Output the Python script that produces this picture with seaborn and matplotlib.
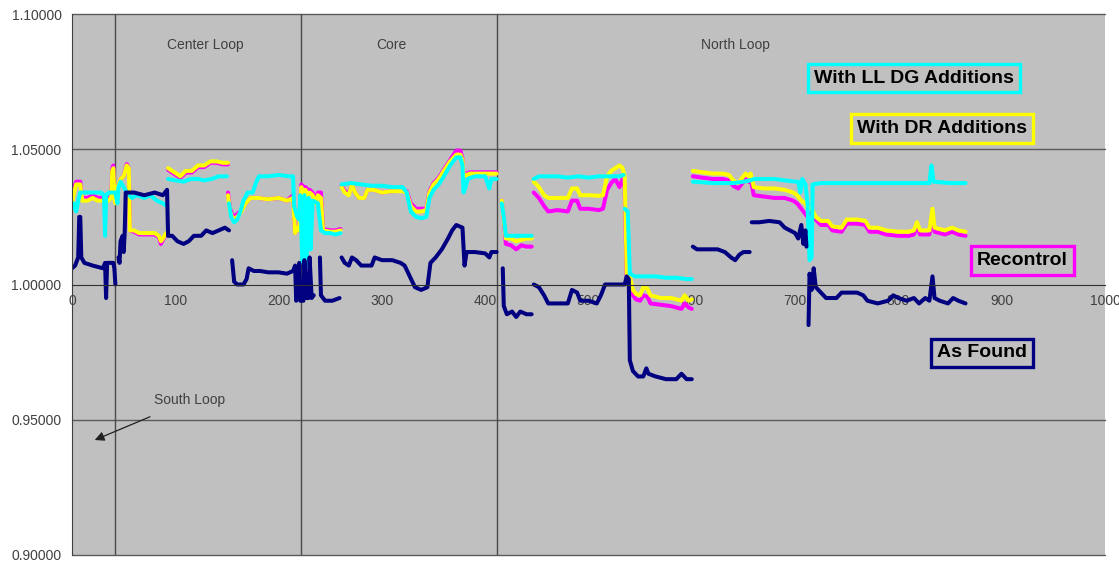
import numpy as np
import pandas as pd
import seaborn as sns
import matplotlib.pyplot as plt

nan = np.nan

# As Found (navy)
found_x = [0, 3, 6, 7, 8, 9, 12, 16, 20, 25, 30, 32, 33, 34, 40, 41, 42, nan,
           45, 46, 47, 49, 50, 51, 52, 60, 70, 80, 88, 92, 93, 97, 102, 108, 113, 118, 125, 130, 136, 142, 148, 152, nan,
           155, 157, 160, 166, 169, 171, 176, 182, 190, 200, 208, 214, 216, 217, 219, 220, 221, 224, 225, 227, 229, 230, 232, 234, nan,
           240, 241, 245, 252, 259, nan,
           261, 264, 268, 271, 275, 280, 285, 290, 293, 300, 310, 318, 322, 327, 332, 338, 344, 347, 352, 358, 364, 368, 372, 378, 380, 382, 390, 400, 404, 406, 411, nan,
           417, 418, 421, 426, 430, 434, 440, 445, nan,
           447, 452, 457, 461, 470, 480, 484, 489, 492, 500, 508, 512, 516, 525, 535, 537, 539, 540, 543, 548, 553, 556, 558, 565, 575, 585, 590, 595, 600, nan,
           601, 605, 615, 625, 632, 638, 642, 646, 650, 656, nan,
           658, 665, 675, 685, 690, 695, 700, 703, 706, 708, 710, 711, nan,
           713, 714, 716, 718, 720, 725, 730, 740, 745, 750, 760, 766, 770, 780, 790, 795, 800, 808, 815, 820, 826, 830, 833, 835, 840, 848, 853, 858, 865]
found_y = [1.006, 1.007, 1.010, 1.025, 1.025, 1.010, 1.008, 1.0075, 1.007, 1.0065, 1.006, 1.008, 0.995, 1.008, 1.008, 1.006, 1.000, nan,
           1.010, 1.008, 1.016, 1.018, 1.012, 1.019, 1.034, 1.034, 1.033, 1.034, 1.033, 1.035, 1.018, 1.018, 1.016, 1.015, 1.016, 1.018, 1.018, 1.020, 1.019, 1.020, 1.021, 1.020, nan,
           1.009, 1.001, 1.000, 1.000, 1.002, 1.006, 1.005, 1.005, 1.0045, 1.0045, 1.004, 1.005, 1.007, 0.994, 0.995, 1.008, 0.994, 0.994, 1.009, 0.995, 0.995, 1.010, 0.995, 0.996, nan,
           1.010, 0.996, 0.994, 0.994, 0.995, nan,
           1.010, 1.008, 1.007, 1.010, 1.009, 1.007, 1.007, 1.007, 1.010, 1.009, 1.009, 1.008, 1.007, 1.003, 0.999, 0.998, 0.999, 1.008, 1.010, 1.013, 1.017, 1.020, 1.022, 1.021, 1.007, 1.012, 1.012, 1.0115, 1.010, 1.012, 1.012, nan,
           1.006, 0.992, 0.989, 0.990, 0.988, 0.990, 0.989, 0.989, nan,
           1.000, 0.999, 0.996, 0.993, 0.993, 0.993, 0.998, 0.997, 0.994, 0.994, 0.993, 0.996, 1.000, 1.000, 1.000, 1.003, 1.002, 0.972, 0.968, 0.966, 0.966, 0.969, 0.967, 0.966, 0.965, 0.965, 0.967, 0.965, 0.965, nan,
           1.014, 1.013, 1.013, 1.013, 1.012, 1.010, 1.009, 1.011, 1.012, 1.012, nan,
           1.023, 1.023, 1.0235, 1.023, 1.021, 1.020, 1.019, 1.017, 1.022, 1.015, 1.020, 1.014, nan,
           0.985, 1.004, 0.998, 1.006, 0.999, 0.997, 0.995, 0.995, 0.997, 0.997, 0.997, 0.996, 0.994, 0.993, 0.994, 0.996, 0.995, 0.994, 0.995, 0.993, 0.995, 0.994, 1.003, 0.995, 0.994, 0.993, 0.995, 0.994, 0.993]

# With LL DG Additions (cyan)
lldg_x = [0, 2, 4, 6, 8, 15, 22, 28, 31, 32, 33, 36, 42, 44, 45, 47, 50, 53, 58, 63, 70, 76, 82, 88, 92, nan,
          93, 100, 108, 115, 122, 128, 135, 142, 150, nan,
          152, 154, 157, 160, 163, 166, 170, 175, 178, 181, 190, 200, 210, 214, 215, 218, 220, 221, 223, 225, 227, 229, 231, 233, 238, 241, 245, 250, 255, 260, nan,
          261, 270, 280, 290, 300, 310, 320, 324, 328, 333, 338, 343, 346, 350, 355, 360, 366, 372, 376, 378, 379, 381, 383, 390, 400, 404, 406, 411, nan,
          416, 418, 420, 425, 435, 445, nan,
          447, 452, 460, 470, 480, 490, 500, 510, 520, 530, 534, nan,
          535, 538, 540, 545, 555, 565, 575, 585, 595, 600, nan,
          601, 610, 620, 630, 640, 650, 657, 660, 670, 680, 690, 700, 703, 705, 707, 710, 712, 714, 716, 717, 725, 740, 760, 780, 800, 820, 830, 832, 834, 850, 865]
lldg_y = [1.028, 1.030, 1.027, 1.031, 1.034, 1.034, 1.034, 1.034, 1.033, 1.018, 1.033, 1.034, 1.034, 1.030, 1.036, 1.038, 1.036, 1.034, 1.032, 1.033, 1.032, 1.033, 1.031, 1.030, 1.029, nan,
          1.039, 1.0385, 1.038, 1.039, 1.039, 1.0385, 1.039, 1.040, 1.040, nan,
          1.030, 1.025, 1.023, 1.024, 1.027, 1.031, 1.034, 1.034, 1.0375, 1.040, 1.040, 1.0405, 1.040, 1.040, 1.029, 1.025, 1.024, 1.033, 1.008, 1.033, 1.007, 1.032, 1.013, 1.031, 1.030, 1.020, 1.019, 1.019, 1.0185, 1.019, nan,
          1.037, 1.0375, 1.037, 1.0365, 1.0365, 1.036, 1.036, 1.034, 1.027, 1.025, 1.0245, 1.025, 1.032, 1.035, 1.037, 1.040, 1.044, 1.047, 1.047, 1.044, 1.034, 1.036, 1.039, 1.040, 1.040, 1.0355, 1.039, 1.039, nan,
          1.030, 1.025, 1.018, 1.018, 1.018, 1.018, nan,
          1.039, 1.040, 1.040, 1.040, 1.0395, 1.040, 1.0395, 1.040, 1.040, 1.040, 1.0405, nan,
          1.028, 1.027, 1.004, 1.003, 1.003, 1.003, 1.0025, 1.0025, 1.002, 1.002, nan,
          1.038, 1.0378, 1.0375, 1.0375, 1.0375, 1.038, 1.0385, 1.039, 1.039, 1.039, 1.0385, 1.038, 1.038, 1.034, 1.039, 1.037, 1.030, 1.009, 1.010, 1.037, 1.0375, 1.0375, 1.0375, 1.0375, 1.0375, 1.0375, 1.0375, 1.044, 1.038, 1.0375, 1.0375]

# With DR Additions (yellow) and Recontrol (magenta) share x positions
dr_x = [0, 2, 4, 8, 10, 15, 20, 25, 30, 35, 38, 39, 40, 41, 42, 44, 47, 50, 53, 55, 56, 60, 65, 72, 80, 84, 86, 88, 91, 93, nan,
        93, 97, 101, 105, 110, 116, 122, 128, 134, 140, 146, 151, nan,
        151, 153, 156, 160, 164, 168, 173, 180, 190, 200, 208, 214, 216, 218, 220, 222, 224, 226, 228, 230, 233, 236, 238, 241, 243, 250, 255, 260, nan,
        261, 264, 268, 271, 274, 278, 283, 286, 292, 300, 310, 320, 324, 328, 333, 338, 343, 346, 350, 355, 360, 366, 372, 376, 378, 379, 385, 395, 405, 411, nan,
        416, 418, 420, 425, 430, 435, 440, 445, nan,
        447, 452, 457, 461, 470, 480, 484, 489, 492, 500, 510, 514, 518, 522, 526, 530, 533, 535, 537, 540, 543, 546, 550, 553, 557, 560, 570, 580, 590, 593, 597, 600, nan,
        601, 610, 620, 630, 636, 640, 645, 648, 652, 655, 657, 660, 670, 680, 690, 698, 702, 706, 710, 712, 716, 720, 725, 732, 736, 745, 750, 760, 768, 772, 780, 788, 800, 810, 815, 818, 821, 830, 833, 835, 845, 852, 858, 865]
dr_y = [1.030, 1.034, 1.037, 1.037, 1.031, 1.031, 1.032, 1.031, 1.031, 1.031, 1.032, 1.042, 1.043, 1.032, 1.030, 1.036, 1.039, 1.040, 1.044, 1.043, 1.020, 1.020, 1.019, 1.019, 1.019, 1.018, 1.016, 1.017, 1.019, 1.019, nan,
        1.043, 1.042, 1.041, 1.040, 1.042, 1.042, 1.044, 1.044, 1.0455, 1.0455, 1.045, 1.045, nan,
        1.033, 1.027, 1.024, 1.025, 1.027, 1.030, 1.032, 1.032, 1.0315, 1.032, 1.031, 1.032, 1.019, 1.021, 1.020, 1.036, 1.034, 1.035, 1.033, 1.034, 1.033, 1.030, 1.033, 1.032, 1.020, 1.0195, 1.0195, 1.020, nan,
        1.036, 1.034, 1.033, 1.037, 1.034, 1.032, 1.032, 1.035, 1.035, 1.034, 1.0345, 1.0345, 1.034, 1.029, 1.027, 1.027, 1.0275, 1.034, 1.037, 1.039, 1.042, 1.0455, 1.048, 1.048, 1.046, 1.040, 1.041, 1.041, 1.041, 1.041, nan,
        1.031, 1.024, 1.017, 1.017, 1.016, 1.0165, 1.017, 1.017, nan,
        1.038, 1.036, 1.033, 1.032, 1.032, 1.032, 1.0355, 1.0355, 1.033, 1.033, 1.0328, 1.033, 1.040, 1.042, 1.043, 1.044, 1.043, 1.040, 1.004, 1.003, 0.998, 0.9965, 0.996, 0.999, 0.9985, 0.996, 0.995, 0.995, 0.994, 0.996, 0.994, 0.9945, nan,
        1.042, 1.0415, 1.041, 1.041, 1.0405, 1.0385, 1.0375, 1.039, 1.041, 1.040, 1.041, 1.036, 1.0355, 1.0355, 1.035, 1.034, 1.033, 1.031, 1.030, 1.028, 1.028, 1.025, 1.0235, 1.0235, 1.0215, 1.021, 1.024, 1.024, 1.0235, 1.021, 1.021, 1.020, 1.0195, 1.0195, 1.020, 1.023, 1.020, 1.020, 1.028, 1.021, 1.020, 1.021, 1.020, 1.0195]
recon_y = [1.031, 1.036, 1.038, 1.038, 1.032, 1.032, 1.033, 1.032, 1.032, 1.032, 1.033, 1.043, 1.044, 1.033, 1.031, 1.036, 1.039, 1.040, 1.0445, 1.043, 1.020, 1.0195, 1.0185, 1.0185, 1.0185, 1.0175, 1.015, 1.0165, 1.0185, 1.0185, nan,
           1.0424, 1.0414, 1.0404, 1.0394, 1.0414, 1.0414, 1.0434, 1.0434, 1.045, 1.045, 1.0444, 1.0444, nan,
           1.034, 1.028, 1.025, 1.026, 1.0275, 1.030, 1.032, 1.032, 1.0315, 1.032, 1.031, 1.033, 1.019, 1.021, 1.020, 1.037, 1.036, 1.036, 1.035, 1.035, 1.034, 1.031, 1.034, 1.034, 1.0205, 1.020, 1.020, 1.0205, nan,
           1.0365, 1.0345, 1.0335, 1.037, 1.034, 1.032, 1.032, 1.035, 1.035, 1.034, 1.0345, 1.0348, 1.0345, 1.030, 1.028, 1.028, 1.028, 1.0345, 1.0375, 1.0395, 1.0425, 1.046, 1.0495, 1.0495, 1.0465, 1.0405, 1.0415, 1.0415, 1.0415, 1.0415, nan,
           1.031, 1.024, 1.015, 1.0145, 1.013, 1.0145, 1.014, 1.014, nan,
           1.034, 1.032, 1.029, 1.027, 1.0275, 1.027, 1.031, 1.031, 1.028, 1.028, 1.0275, 1.028, 1.035, 1.0375, 1.039, 1.036, 1.039, 1.036, 1.002, 1.001, 0.996, 0.9945, 0.994, 0.996, 0.9955, 0.993, 0.9925, 0.992, 0.991, 0.993, 0.9915, 0.991, nan,
           1.040, 1.0395, 1.039, 1.039, 1.0385, 1.0365, 1.0355, 1.037, 1.039, 1.038, 1.039, 1.033, 1.0325, 1.032, 1.032, 1.031, 1.030, 1.028, 1.026, 1.025, 1.027, 1.024, 1.022, 1.022, 1.020, 1.0195, 1.0225, 1.0225, 1.022, 1.0195, 1.0195, 1.0185, 1.018, 1.018, 1.0185, 1.0215, 1.0185, 1.0185, 1.0265, 1.0195, 1.0185, 1.0195, 1.0185, 1.018]

section_x = [41.6, 221.7, 411]
section_labels = ["Center Loop", "Core", "North Loop"]
section_label_x = [129, 309, 642]


def to_frame(xs, ys):
    d = pd.DataFrame({"x": xs, "y": ys})
    d["seg"] = d["y"].isna().cumsum()
    return d.dropna()


sns.set_style("white")
plt.rcParams["font.family"] = ["Liberation Sans", "DejaVu Sans"]

fig = plt.figure(figsize=(11.19, 5.65), dpi=100)
ax = fig.add_axes([72 / 1119, 10 / 565, 1033 / 1119, 541 / 565])
ax.set_facecolor("#c0c0c0")

series = [
    (to_frame(dr_x, recon_y), "#ff00ff"),
    (to_frame(dr_x, dr_y), "#ffff00"),
    (to_frame(lldg_x, lldg_y), "#00ffff"),
    (to_frame(found_x, found_y), "#000080"),
]
for d, c in series:
    sns.lineplot(data=d, x="x", y="y", units="seg", estimator=None, sort=False,
                 color=c, lw=2.9, ax=ax, legend=False)

ax.set_xlim(0, 1000)
ax.set_ylim(0.9, 1.1)
ax.set_xticks(range(0, 1001, 100))
ax.set_yticks([0.90, 0.95, 1.00, 1.05, 1.10])
ax.set_yticklabels(["%.5f" % v for v in [0.90, 0.95, 1.00, 1.05, 1.10]])
ax.set_xlabel("")
ax.set_ylabel("")

for v in [0.90, 0.95, 1.05, 1.10]:
    ax.axhline(v, color="#5a5a5a", lw=1, zorder=0.5, clip_on=False)
for xv in section_x:
    ax.axvline(xv, color="#4a4a4a", lw=1, zorder=0.5)

ax.spines["top"].set_visible(False)
ax.spines["right"].set_visible(False)
ax.spines["left"].set_color("#404040")
ax.spines["bottom"].set_position(("data", 1.0))
ax.spines["bottom"].set_color("#303030")
ax.tick_params(axis="both", colors="#404040", labelsize=10, length=4, width=0.8,
               direction="out", labelcolor="#404040")
ax.tick_params(axis="x", pad=3)

for lab, lx in zip(section_labels, section_label_x):
    ax.text(lx, 1.0885, lab, ha="center", va="center", fontsize=10, color="#404040")

ax.annotate("South Loop", xy=(22, 0.9425), xytext=(114, 0.9573),
            ha="center", va="center", fontsize=10, color="#404040",
            arrowprops=dict(arrowstyle="-|>", color="#202020", lw=0.9,
                            mutation_scale=14, shrinkA=12, shrinkB=0))

legend_boxes = [
    ("With LL DG Additions", 815, 1.0763, "#00ffff"),
    ("With DR Additions", 842, 1.0577, "#ffff00"),
    ("Recontrol", 920, 1.0089, "#ff00ff"),
    ("As Found", 881, 0.9747, "#000080"),
]
for txt, tx, ty, c in legend_boxes:
    ax.text(tx, ty, txt, ha="center", va="center", fontsize=14, fontweight="bold",
            color="black",
            bbox=dict(boxstyle="square,pad=0.3", fc="none", ec=c, lw=2.4))

fig.savefig("out.png", dpi=100)
